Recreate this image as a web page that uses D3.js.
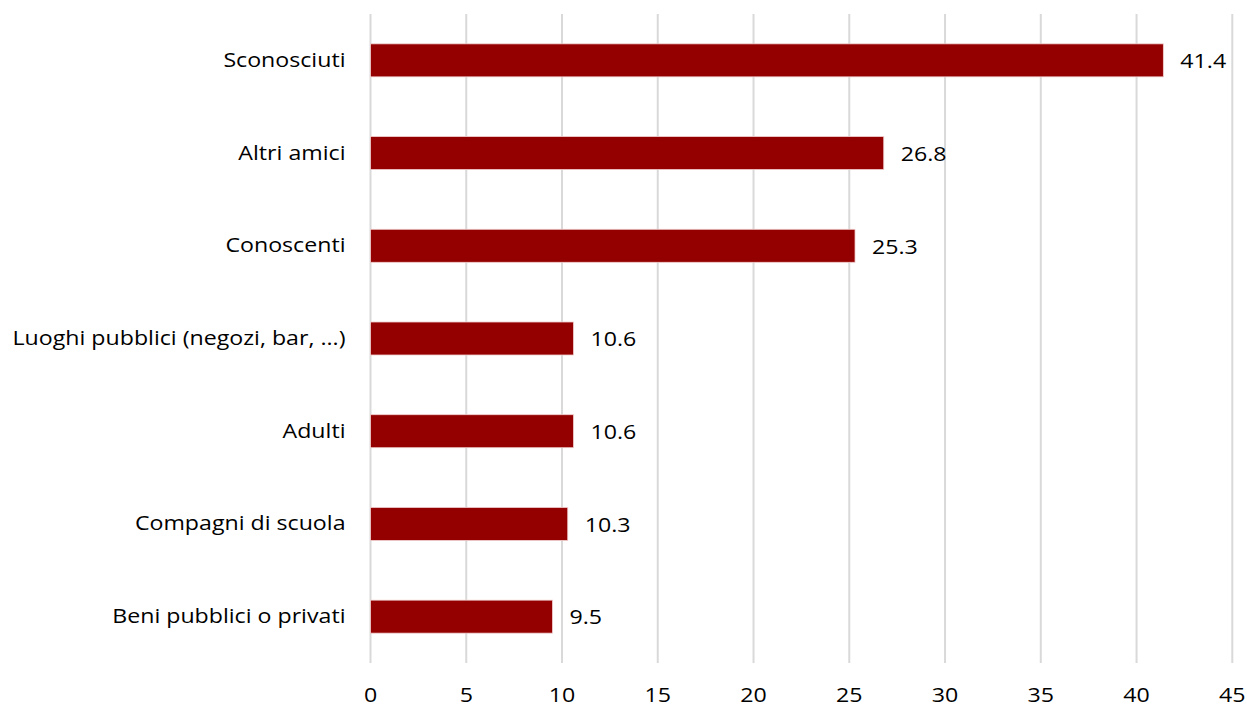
<!DOCTYPE html>
<html><head><meta charset="utf-8">
<script src="https://cdn.jsdelivr.net/npm/d3@7"></script>
<style>
body{margin:0;background:#fff;}
text{font-family:"Open Sans",Lato,sans-serif;fill:#000;}
</style></head>
<body><svg id="c" width="1247" height="708"></svg>
<script>
const categories = ["Sconosciuti","Altri amici","Conoscenti","Luoghi pubblici (negozi, bar, ...)","Adulti","Compagni di scuola","Beni pubblici o privati"];
const values = [41.4,26.8,25.3,10.6,10.6,10.3,9.5];
const ticks = [0,5,10,15,20,25,30,35,40,45];

(function(){
const svg = d3.select("#c");
const mLeft = 370.5, mRight = 1232.3, mTop = 14, mBottom = 663;
const fs = 20.5, sx = 1.13;
const x = d3.scaleLinear().domain([0,45]).range([mLeft,mRight]);
const y = d3.scaleBand().domain(categories).range([mTop,mBottom]).paddingInner(0.644).paddingOuter(0.322);

svg.append("g").selectAll("line").data(ticks).join("line")
  .attr("x1",d=>x(d)).attr("x2",d=>x(d)).attr("y1",mTop).attr("y2",mBottom)
  .attr("stroke","#d9d9d9").attr("stroke-width",2);

svg.append("g").selectAll("text").data(ticks).join("text")
  .attr("transform",d=>`translate(${x(d)},702) scale(${sx},1)`).attr("text-anchor","middle")
  .attr("font-size",fs).text(d=>d);

svg.append("g").selectAll("rect").data(values).join("rect")
  .attr("x",x(0)).attr("y",(d,i)=>y(categories[i]))
  .attr("width",d=>x(d)-x(0)).attr("height",y.bandwidth())
  .attr("fill","#940000").attr("stroke","#f2d0d0").attr("stroke-width",0.8);

svg.append("g").selectAll("text").data(values).join("text")
  .attr("transform",(d,i)=>`translate(${x(d)+17},${y(categories[i])+y.bandwidth()/2+7.8}) scale(${sx},1)`)
  .attr("font-size",fs).text(d=>d.toFixed(1));

svg.append("g").selectAll("text").data(categories).join("text")
  .attr("transform",d=>`translate(345.5,${y(d)+y.bandwidth()/2+6.5}) scale(${sx},1)`).attr("text-anchor","end")
  .attr("font-size",fs).text(d=>d);
})();
</script></body></html>
